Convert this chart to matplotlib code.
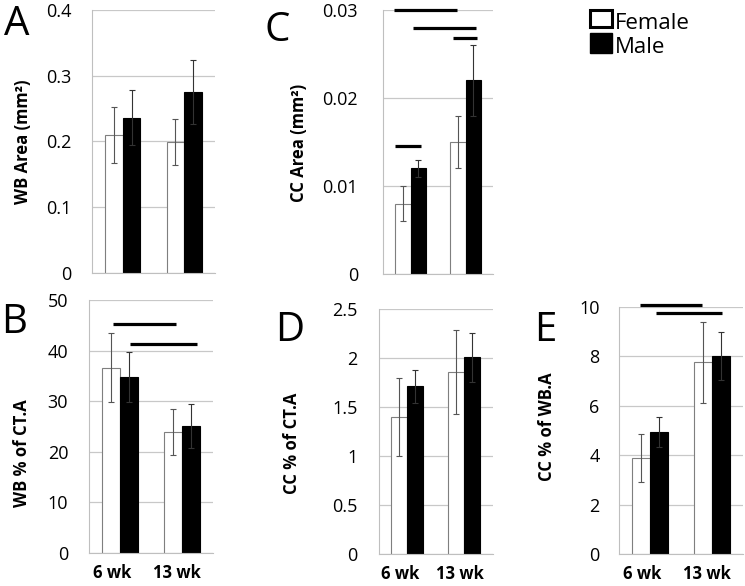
import numpy as np
import matplotlib
matplotlib.use('Agg')
import matplotlib.pyplot as plt

plt.rcParams['font.family'] = ['Open Sans', 'DejaVu Sans']

# Data (mean, error) for Female / Male at 6 wk and 13 wk
groups = ['6 wk', '13 wk']

wb_area_f = [0.210, 0.199]
wb_area_f_err = [0.043, 0.035]
wb_area_m = [0.236, 0.275]
wb_area_m_err = [0.042, 0.049]

cc_area_f = [0.008, 0.015]
cc_area_f_err = [0.002, 0.003]
cc_area_m = [0.012, 0.022]
cc_area_m_err = [0.001, 0.004]

wb_pct_f = [36.6, 23.9]
wb_pct_f_err = [6.8, 4.6]
wb_pct_m = [34.8, 25.1]
wb_pct_m_err = [4.9, 4.3]

cc_ct_f = [1.40, 1.86]
cc_ct_f_err = [0.40, 0.43]
cc_ct_m = [1.71, 2.01]
cc_ct_m_err = [0.17, 0.25]

cc_wb_f = [3.89, 7.77]
cc_wb_f_err = [0.97, 1.64]
cc_wb_m = [4.94, 8.02]
cc_wb_m_err = [0.60, 0.97]

# significance bars: (x_start, x_end, y)
sig_c = [(0.2, 1.35, 0.0300), (0.55, 1.69, 0.0280), (1.27, 1.71, 0.0268), (0.22, 0.69, 0.01455)]
sig_b = [(0.39, 1.40, 45.3), (0.66, 1.74, 41.3)]
sig_e = [(0.34, 1.34, 10.1), (0.60, 1.66, 9.76)]

W, H = 745, 586
fig = plt.figure(figsize=(W / 100, H / 100), dpi=100)


def ax_at(left, right, top, bottom):
    return fig.add_axes([left / W, 1 - bottom / H, (right - left) / W, (bottom - top) / H])


def draw_panel(ax, f, fe, m, me, ymax, step, fmt, pad, xlabels, sig=None):
    centers = np.arange(len(groups)) + 0.5
    bw = 0.285
    ax.bar(centers - bw / 2, f, bw, color='white', edgecolor='#7f7f7f', linewidth=0.8, zorder=2)
    ax.bar(centers + bw / 2, m, bw, color='black', edgecolor='black', linewidth=0.8, zorder=2)
    ax.errorbar(centers - bw / 2, f, yerr=fe, fmt='none', ecolor='#555555', elinewidth=0.8,
                capsize=2.5, capthick=0.8, zorder=3)
    ax.errorbar(centers + bw / 2, m, yerr=me, fmt='none', ecolor='#333333', elinewidth=0.8,
                capsize=2.5, capthick=0.8, zorder=3)
    ax.set_xlim(0, 2)
    ax.set_ylim(0, ymax)
    ticks = np.arange(0, ymax + step / 2, step)
    ax.set_yticks(ticks)
    ax.set_yticklabels([fmt(t) for t in ticks], fontsize=13)
    ax.yaxis.grid(True, color='#c8c8c8', linewidth=0.9)
    ax.set_axisbelow(True)
    for s in ['top', 'right']:
        ax.spines[s].set_visible(False)
    ax.spines['left'].set_color('#bfbfbf')
    ax.spines['bottom'].set_color('#bfbfbf')
    ax.tick_params(length=0, pad=pad)
    if xlabels:
        ax.set_xticks([0.38, 1.42])
        ax.set_xticklabels(groups, fontsize=12, fontweight='bold')
        ax.tick_params(axis='x', pad=8)
    else:
        ax.set_xticks([])
    if sig:
        for x0, x1, y in sig:
            ax.plot([x0, x1], [y, y], color='black', lw=2.3, clip_on=False, zorder=4,
                    solid_capstyle='butt')


axA = ax_at(92, 215, 10, 273)
draw_panel(axA, wb_area_f, wb_area_f_err, wb_area_m, wb_area_m_err, 0.4, 0.1,
           lambda t: '0' if t == 0 else f'{t:.1f}', 15, False)

axC = ax_at(383, 493, 10, 274)
draw_panel(axC, cc_area_f, cc_area_f_err, cc_area_m, cc_area_m_err, 0.03, 0.01,
           lambda t: '0' if t == 0 else f'{t:.2f}', 18, False, sig_c)

axB = ax_at(89, 213, 300, 553)
draw_panel(axB, wb_pct_f, wb_pct_f_err, wb_pct_m, wb_pct_m_err, 50, 10,
           lambda t: f'{t:.0f}', 15, True, sig_b)

axD = ax_at(378.5, 492.5, 309, 554)
draw_panel(axD, cc_ct_f, cc_ct_f_err, cc_ct_m, cc_ct_m_err, 2.5, 0.5,
           lambda t: f'{t:g}', 15, True)

axE = ax_at(619, 743, 307, 554)
draw_panel(axE, cc_wb_f, cc_wb_f_err, cc_wb_m, cc_wb_m_err, 10, 2,
           lambda t: f'{t:.0f}', 14, True, sig_e)

# y labels
ylabels = [('WB Area (mm²)', 23, 142), ('CC Area (mm²)', 299, 143),
           ('WB % of CT.A', 22, 453), ('CC % of CT.A', 292, 443), ('CC % of WB.A', 547, 427)]
for txt, x, y in ylabels:
    fig.text(x / W, 1 - y / H, txt, rotation=90, ha='center', va='center',
             fontsize=12, fontweight='bold')

# panel letters
for lab, x, y in [('A', 17, 25), ('C', 277, 31), ('B', 14, 323), ('D', 290, 331), ('E', 545, 331)]:
    fig.text(x / W, 1 - y / H, lab, ha='center', va='center', fontsize=29)

# legend
fig.patches.append(plt.Rectangle((590 / W, 1 - 27 / H), 22 / W, 17 / H, transform=fig.transFigure,
                                 facecolor='white', edgecolor='black', linewidth=2.2))
fig.patches.append(plt.Rectangle((590 / W, 1 - 53 / H), 22 / W, 20 / H, transform=fig.transFigure,
                                 facecolor='black', edgecolor='black', linewidth=1))
fig.text(615 / W, 1 - 29 / H, 'Female', ha='left', va='baseline', fontsize=16)
fig.text(615 / W, 1 - 53 / H, 'Male', ha='left', va='baseline', fontsize=16)

fig.savefig('out.png', dpi=100)
